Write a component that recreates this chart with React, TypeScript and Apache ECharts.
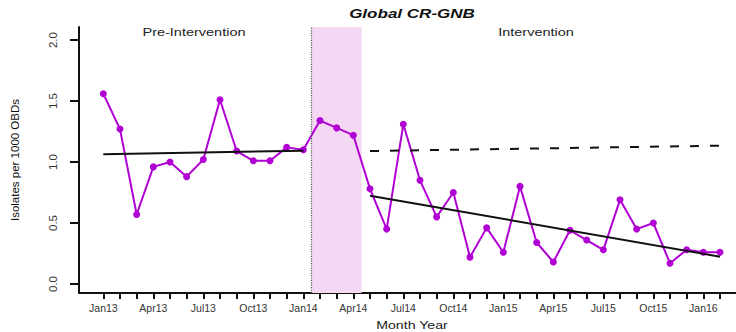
import React, { useEffect, useRef } from "react";
import * as echarts from "echarts";

// Month index 0 = Jan13 ... 37 = Feb16
const months = [
  "Jan13", "Feb13", "Mar13", "Apr13", "May13", "Jun13", "Jul13", "Aug13", "Sep13", "Oct13", "Nov13", "Dec13",
  "Jan14", "Feb14", "Mar14", "Apr14", "May14", "Jun14", "Jul14", "Aug14", "Sep14", "Oct14", "Nov14", "Dec14",
  "Jan15", "Feb15", "Mar15", "Apr15", "May15", "Jun15", "Jul15", "Aug15", "Sep15", "Oct15", "Nov15", "Dec15",
  "Jan16", "Feb16",
];

const observed = [
  1.56, 1.27, 0.57, 0.96, 1.0, 0.88, 1.02, 1.51, 1.09, 1.01, 1.01, 1.12,
  1.1, 1.34, 1.28, 1.22, 0.78, 0.45, 1.31, 0.85, 0.55, 0.75, 0.22, 0.46,
  0.26, 0.8, 0.34, 0.18, 0.44, 0.36, 0.28, 0.69, 0.45, 0.5, 0.17, 0.28,
  0.26, 0.26,
];

const tickLabelMonths = [0, 3, 6, 9, 12, 15, 18, 21, 24, 27, 30, 33, 36];
const yTickValues = [0, 0.5, 1.0, 1.5, 2.0];

const preTrendMonths = [0, 12];
const preTrendValues = [1.063, 1.093];
const counterfactualMonths = [16, 37];
const counterfactualValues = [1.09, 1.134];
const postTrendMonths = [16, 37];
const postTrendValues = [0.724, 0.224];

const transitionStart = 12.5;
const transitionEnd = 15.5;

const xMin = -1.46;
const xMax = 37.96;
const yMin = -0.074;
const yMax = 2.107;

const LINE_COLOR = "#b000d4";

export default function App() {
  const ref = useRef<HTMLDivElement>(null);

  useEffect(() => {
    if (!ref.current) return;
    const chart = echarts.init(ref.current, undefined, { renderer: "svg" });
    const pair = (xs: number[], ys: number[]) => xs.map((x, i) => [x, ys[i]]);
    const allMonthTicks = months.map((_, i) => i);

    chart.setOption({
      animation: false,
      backgroundColor: "#ffffff",
      grid: { left: 79, right: 0, top: 27, bottom: 39, containLabel: false },
      xAxis: {
        type: "value",
        min: xMin,
        max: xMax,
        splitLine: { show: false },
        axisLine: { show: true, onZero: false, lineStyle: { color: "#111", width: 2 } },
        axisTick: {
          show: true,
          customValues: allMonthTicks,
          length: 6,
          inside: false,
          lineStyle: { color: "#111", width: 2 },
        },
        axisLabel: {
          customValues: tickLabelMonths,
          formatter: (v: number) => months[Math.round(v)] ?? "",
          margin: 9,
          fontSize: 10.5,
          fontFamily: "Liberation Sans, Arial, sans-serif",
          color: "#333",
        },
      },
      yAxis: {
        type: "value",
        min: yMin,
        max: yMax,
        splitLine: { show: false },
        axisLine: { show: true, onZero: false, lineStyle: { color: "#111", width: 2 } },
        axisTick: {
          show: true,
          customValues: yTickValues,
          length: 9,
          lineStyle: { color: "#111", width: 2 },
        },
        axisLabel: {
          customValues: yTickValues,
          formatter: (v: number) => v.toFixed(1),
          rotate: 90,
          margin: 20,
          fontSize: 11.5,
          fontFamily: "Liberation Sans, Arial, sans-serif",
          color: "#333",
        },
      },
      graphic: [
        {
          type: "text",
          x: 412,
          y: 14,
          scaleX: 1.42,
          style: {
            text: "Global CR-GNB",
            font: "italic bold 12px 'Liberation Sans', Arial, sans-serif",
            fill: "#111",
            align: "center",
            verticalAlign: "middle",
          },
        },
        {
          type: "text",
          x: 194,
          y: 33,
          scaleX: 1.38,
          style: {
            text: "Pre-Intervention",
            font: "10.5px 'Liberation Sans', Arial, sans-serif",
            fill: "#222",
            align: "center",
            verticalAlign: "middle",
          },
        },
        {
          type: "text",
          x: 536,
          y: 33,
          scaleX: 1.38,
          style: {
            text: "Intervention",
            font: "10.5px 'Liberation Sans', Arial, sans-serif",
            fill: "#222",
            align: "center",
            verticalAlign: "middle",
          },
        },
        {
          type: "text",
          x: 412,
          y: 326,
          scaleX: 1.35,
          style: {
            text: "Month Year",
            font: "10.5px 'Liberation Sans', Arial, sans-serif",
            fill: "#222",
            align: "center",
            verticalAlign: "middle",
          },
        },
        {
          type: "text",
          x: 15,
          y: 160,
          rotation: Math.PI / 2,
          style: {
            text: "Isolates per 1000 OBDs",
            font: "11.5px 'Liberation Sans', Arial, sans-serif",
            fill: "#111",
            align: "center",
            verticalAlign: "middle",
          },
        },
      ],
      series: [
        {
          type: "line",
          name: "Observed",
          data: observed.map((v, i) => [i, v]),
          symbol: "circle",
          symbolSize: 7,
          lineStyle: { color: LINE_COLOR, width: 2 },
          itemStyle: { color: LINE_COLOR },
          z: 3,
          markArea: {
            silent: true,
            itemStyle: { color: "#f3d7f3" },
            data: [[{ xAxis: transitionStart }, { xAxis: transitionEnd }]],
          },
          markLine: {
            silent: true,
            symbol: "none",
            label: { show: false },
            lineStyle: { color: "#555", type: "dotted", width: 1.2 },
            data: [{ xAxis: transitionStart }],
          },
        },
        {
          type: "line",
          name: "Pre trend",
          data: pair(preTrendMonths, preTrendValues),
          symbol: "none",
          lineStyle: { color: "#111", width: 2 },
          z: 4,
        },
        {
          type: "line",
          name: "Counterfactual",
          data: pair(counterfactualMonths, counterfactualValues),
          symbol: "none",
          lineStyle: { color: "#111", width: 2, type: [9, 11] },
          z: 4,
        },
        {
          type: "line",
          name: "Post trend",
          data: pair(postTrendMonths, postTrendValues),
          symbol: "none",
          lineStyle: { color: "#111", width: 2 },
          z: 4,
        },
      ],
    });

    return () => chart.dispose();
  }, []);

  return (
    <div
      ref={ref}
      style={{ position: "fixed", left: 0, top: 0, width: 736, height: 332, background: "#fff" }}
    />
  );
}
